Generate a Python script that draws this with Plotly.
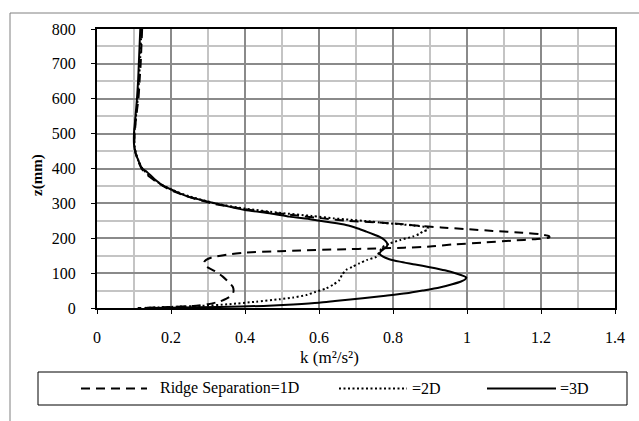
import plotly.graph_objects as go

# ---------------- data ----------------
z_1d = [800, 750, 700, 650, 600, 550, 500, 470, 445, 420, 400, 380, 360, 340, 320, 300,
        285, 275, 265, 257, 250, 245, 240, 235, 231, 226, 221, 216, 211, 206, 202, 198,
        193, 188, 182, 176, 173, 171, 168, 165, 163, 159, 153, 145, 138, 132, 124, 117,
        105, 90, 75, 61, 48, 37, 27, 18, 11, 6, 3, 1, 0]
k_1d = [0.122, 0.120, 0.118, 0.115, 0.112, 0.106, 0.102, 0.101, 0.104, 0.112, 0.120, 0.138,
        0.163, 0.195, 0.243, 0.310, 0.390, 0.460, 0.540, 0.610, 0.680, 0.764, 0.830, 0.875,
        0.930, 1.000, 1.070, 1.150, 1.200, 1.222, 1.222, 1.190, 1.120, 1.050, 0.960, 0.900,
        0.830, 0.764, 0.650, 0.550, 0.493, 0.400, 0.350, 0.310, 0.295, 0.290, 0.290, 0.298,
        0.320, 0.340, 0.355, 0.367, 0.369, 0.365, 0.350, 0.330, 0.300, 0.260, 0.200, 0.140,
        0.110]

z_2d = [800, 700, 600, 500, 470, 445, 420, 400, 380, 360, 340, 320, 300, 285, 273, 264,
        257, 254, 248, 245, 240, 236, 233, 229, 224, 219, 212, 205, 195, 185, 175, 162,
        147, 138, 128, 118, 109, 95, 80, 68, 56, 46, 37, 30, 25, 18, 11, 6, 4, 1, 0]
k_2d = [0.120, 0.116, 0.110, 0.101, 0.101, 0.105, 0.113, 0.123, 0.140, 0.165, 0.200, 0.250,
        0.320, 0.400, 0.493, 0.580, 0.640, 0.673, 0.740, 0.764, 0.820, 0.860, 0.885, 0.895,
        0.893, 0.880, 0.870, 0.854, 0.820, 0.791, 0.772, 0.764, 0.755, 0.730, 0.709, 0.690,
        0.673, 0.662, 0.655, 0.640, 0.619, 0.590, 0.565, 0.530, 0.493, 0.430, 0.358, 0.280,
        0.223, 0.150, 0.120]

z_3d = [800, 750, 700, 650, 600, 550, 500, 470, 445, 420, 400, 390, 370, 350, 333, 320,
        305, 290, 281, 271, 262, 254, 247, 238, 228, 219, 210, 204, 195, 188, 181, 175,
        169, 162, 155, 148, 140, 133, 125, 117, 108, 99, 92, 88, 82, 76, 68, 59, 50, 42,
        35, 28, 21, 15, 10, 6, 3, 1, 0]
k_3d = [0.117, 0.115, 0.113, 0.111, 0.108, 0.104, 0.100, 0.100, 0.104, 0.113, 0.122, 0.135,
        0.155, 0.180, 0.215, 0.245, 0.300, 0.360, 0.400, 0.470, 0.520, 0.580, 0.620, 0.673,
        0.705, 0.728, 0.750, 0.764, 0.777, 0.783, 0.785, 0.782, 0.775, 0.767, 0.764, 0.772,
        0.790, 0.818, 0.860, 0.899, 0.940, 0.971, 0.990, 0.998, 0.995, 0.984, 0.960, 0.926,
        0.880, 0.836, 0.780, 0.718, 0.650, 0.600, 0.530, 0.450, 0.330, 0.200, 0.130]

series_names = ["Ridge Separation=1D", "=2D", "=3D"]
x_ticks = [0, 0.2, 0.4, 0.6, 0.8, 1, 1.2, 1.4]
x_tick_labels = ["0", "0.2", "0.4", "0.6", "0.8", "1", "1.2", "1.4"]
y_ticks = [0, 100, 200, 300, 400, 500, 600, 700, 800]
x_title = "k (m²/s²)"
y_title = "<b>z(mm)</b>"

# ---------------- layout helpers ----------------
W, H = 639, 421
L, R, T, B = 97, 615, 29, 308   # plot area in pixels


def px(x):
    return (x - L) / (R - L)


def py(y):
    return (B - y) / (B - T)


SERIF = "Liberation Serif"
SANS = "Liberation Sans Narrow"

styles = [
    dict(color="black", width=2, dash="9px,6px"),
    dict(color="black", width=2, dash="2px,2.5px"),
    dict(color="black", width=2),
]

fig = go.Figure()
for name, ks, zs, st in zip(series_names, [k_1d, k_2d, k_3d], [z_1d, z_2d, z_3d], styles):
    fig.add_trace(go.Scatter(x=ks, y=zs, mode="lines", name=name,
                             line=dict(**st, shape="spline", smoothing=0.6), showlegend=False))

grid_major = "#8a8a8a"
grid_minor = "#c4c4c4"

fig.update_xaxes(range=[0, 1.4], tickvals=x_ticks, ticktext=x_tick_labels,
                 showline=True, linecolor="black", linewidth=2, mirror=True,
                 ticks="outside", ticklen=4, tickcolor="black", tickwidth=1,
                 showgrid=True, gridcolor=grid_major, gridwidth=2,
                 minor=dict(dtick=0.1, showgrid=True, gridcolor=grid_minor, gridwidth=2, ticks=""),
                 tickfont=dict(family=SERIF, size=16, color="black"),
                 ticklabelstandoff=10, zeroline=False)
fig.update_yaxes(range=[0, 800], tickvals=y_ticks,
                 showline=True, linecolor="black", linewidth=2, mirror=True,
                 ticks="outside", ticklen=4, tickcolor="black", tickwidth=1,
                 showgrid=True, gridcolor=grid_major, gridwidth=2,
                 minor=dict(dtick=50, showgrid=True, gridcolor=grid_minor, gridwidth=2, ticks=""),
                 tickfont=dict(family=SERIF, size=16, color="black"),
                 ticklabelstandoff=12, zeroline=False)

shapes = []
annotations = []
# outer chart frame (top and left edges visible)
shapes.append(dict(type="line", xref="paper", yref="paper", x0=px(10), x1=px(W + 2), y0=py(13), y1=py(13),
                   line=dict(color="#808080", width=1)))
shapes.append(dict(type="line", xref="paper", yref="paper", x0=px(10), x1=px(10), y0=py(13), y1=py(H + 2),
                   line=dict(color="#808080", width=1)))
# legend box
shapes.append(dict(type="rect", xref="paper", yref="paper", x0=px(38), x1=px(627), y0=py(372), y1=py(405),
                   line=dict(color="black", width=1), fillcolor="white"))
leg_y = py(388.5)
sample_spans = [(81, 147), (339, 407), (487, 556)]
text_x = [158, 410, 558]
for name, (a, b), tx, st in zip(series_names, sample_spans, text_x, styles):
    shapes.append(dict(type="line", xref="paper", yref="paper", x0=px(a), x1=px(b), y0=leg_y, y1=leg_y,
                       line=st))
    annotations.append(dict(text=name, xref="paper", yref="paper", x=px(tx), y=leg_y, xanchor="left",
                            yanchor="middle", showarrow=False, font=dict(family=SERIF, size=16, color="black")))

# axis titles
annotations.append(dict(text=x_title, xref="paper", yref="paper", x=px(329), y=py(357), xanchor="center",
                        yanchor="middle", showarrow=False, font=dict(family=SANS, size=17, color="black")))
annotations.append(dict(text=y_title, xref="paper", yref="paper", x=px(37), y=py(175), xanchor="center",
                        yanchor="middle", textangle=-90, showarrow=False,
                        font=dict(family=SERIF, size=15, color="black")))

fig.update_layout(width=W, height=H, margin=dict(l=L, r=W - R, t=T, b=H - B),
                  paper_bgcolor="white", plot_bgcolor="white",
                  shapes=shapes, annotations=annotations, showlegend=False)

fig.write_html("out.html")
